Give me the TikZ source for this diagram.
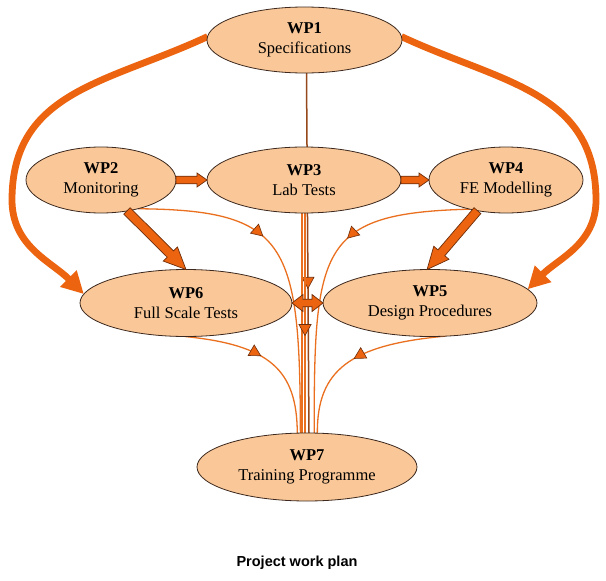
\documentclass[tikz,border=0pt]{standalone}
\usepackage{fontspec}
\setmainfont{Liberation Serif}
\newfontfamily\capfont{Liberation Sans}
\usetikzlibrary{shapes.geometric,arrows.meta,calc,decorations.markings,backgrounds}
\definecolor{wpfill}{RGB}{250,200,152}
\definecolor{wpline}{RGB}{60,40,30}
\definecolor{thickorange}{RGB}{236,100,16}
\definecolor{thinorange}{RGB}{234,112,32}
\definecolor{brownline}{RGB}{150,72,28}
\definecolor{blockline}{RGB}{110,45,10}
% single block arrow: start, end, shaft half width, head half width, head length
\newcommand\wpblockarrow[5]{%
  \coordinate (ba-s) at (#1);
  \coordinate (ba-e) at (#2);
  \coordinate (ba-c) at ($(ba-e)!#5!(ba-s)$);
  \draw[blockarr] ($(ba-s)!#3!90:(ba-e)$) -- ($(ba-c)!#3!-90:(ba-s)$) -- ($(ba-c)!#4!-90:(ba-s)$)
    -- (ba-e) -- ($(ba-c)!#4!90:(ba-s)$) -- ($(ba-c)!#3!90:(ba-s)$) -- ($(ba-s)!#3!-90:(ba-e)$) -- cycle;
}
% double block arrow
\newcommand\wpdblockarrow[5]{%
  \coordinate (ba-s) at (#1);
  \coordinate (ba-e) at (#2);
  \coordinate (ba-c) at ($(ba-e)!#5!(ba-s)$);
  \coordinate (ba-d) at ($(ba-s)!#5!(ba-e)$);
  \draw[blockarr] (ba-s) -- ($(ba-d)!#4!90:(ba-e)$) -- ($(ba-d)!#3!90:(ba-e)$) -- ($(ba-c)!#3!-90:(ba-s)$)
    -- ($(ba-c)!#4!-90:(ba-s)$) -- (ba-e) -- ($(ba-c)!#4!90:(ba-s)$) -- ($(ba-c)!#3!90:(ba-s)$)
    -- ($(ba-d)!#3!-90:(ba-e)$) -- ($(ba-d)!#4!-90:(ba-e)$) -- cycle;
}
\begin{document}
\begin{tikzpicture}[x=1pt,y=1pt,
  wp/.style={ellipse, draw=wpline, line width=0.8pt, fill=wpfill, inner sep=0pt, outer sep=0pt,
    align=center, font=\fontsize{16.5}{20}\selectfont},
  thickarc/.style={draw=thickorange, line width=6.8pt, -{Triangle[length=22pt,width=22pt]}},
  thinline/.style={draw=thinorange, line width=1.3pt},
  brownln/.style={draw=brownline, line width=1.5pt},
  midtip/.style={postaction={decorate, decoration={markings, mark=at position #1 with
    {\arrow{Triangle[length=12pt,width=13pt,fill=thickorange,color=blockline,line width=0.6pt]}}}}},
  blockarr/.style={fill=thickorange, draw=blockline, line width=0.7pt, line join=miter}
]
\useasboundingbox (0,0) rectangle (606,-581);

% nodes
\node[wp, minimum width=195pt, minimum height=66pt] (wp1) at (304.5,-40) {\textbf{WP1}\\Specifications};
\node[wp, minimum width=150pt, minimum height=66pt] (wp2) at (101,-180) {\textbf{WP2}\\Monitoring};
\node[wp, minimum width=194pt, minimum height=66pt] (wp3) at (304,-180) {\textbf{WP3}\\Lab Tests};
\node[wp, minimum width=154pt, minimum height=66pt] (wp4) at (506,-180) {\textbf{WP4}\\FE Modelling};
\node[wp, minimum width=212pt, minimum height=67pt] (wp6) at (186,-303) {\textbf{WP6}\\Full Scale Tests};
\node[wp, minimum width=214pt, minimum height=67pt] (wp5) at (430,-303) {\textbf{WP5}\\Design Procedures};
\node[wp, minimum width=220pt, minimum height=68pt] (wp7) at (307,-467) {\textbf{WP7}\\Training Programme};

\node[font=\capfont\bfseries\fontsize{14.5}{16}\selectfont] (cap) at (297,-563) {Project work plan};

\coordinate (lbend) at (12,-200);
\coordinate (rbend) at (596,-200);

\begin{pgfonlayer}{background}
  \fill[white] (0,0) rectangle (606,-581);
  % thick arcs
  \draw[thickarc] (wp1.178) to[out=205, in=90, looseness=1.1] (lbend) to[out=-90, in=135] (wp6.175);
  \draw[thickarc] (wp1.2) to[out=-25, in=90, looseness=1.1] (rbend) to[out=-90, in=45] (wp5.8);
  % WP1 -> WP7 (behind WP3)
  \draw[brownln, midtip=0.6] ($(wp1.south)+(2,0)$) -- ($(wp7.north)+(2,0)$);
  % WP3 -> WP7
  \draw[thinline] ($(wp3.south)+(-2,0)$) -- ($(wp7.north)+(-5,0)$);
  \draw[thinline, midtip=0.56] ($(wp3.south)+(1,0)$) -- ($(wp7.north)+(-2,0)$);
  % curves into WP7
  \draw[thinline, midtip=0.39] (wp2.-38) .. controls (288,-210) and (300,-243) .. (wp7.101.7);
  \draw[thinline, midtip=0.47] (wp6.-92) .. controls (270,-345) and (297,-370) .. (wp7.106.5);
  \draw[thinline, midtip=0.39] (wp4.-141) .. controls (320,-213) and (314,-246) .. (wp7.78.3);
  \draw[thinline, midtip=0.52] (wp5.-66) .. controls (350,-345) and (317,-370) .. (wp7.73.5);
\end{pgfonlayer}

% block arrows
\wpblockarrow{wp2.east}{wp3.west}{3.8pt}{7pt}{10pt}
\wpblockarrow{wp3.east}{wp4.west}{3.8pt}{7pt}{10pt}
\wpblockarrow{wp2.-50}{wp6.north}{4.5pt}{10pt}{22pt}
\wpblockarrow{wp4.-133}{wp5.95}{4.5pt}{10pt}{22pt}
\wpdblockarrow{wp6.east}{wp5.west}{3.8pt}{8.5pt}{11pt}
\end{tikzpicture}
\end{document}
